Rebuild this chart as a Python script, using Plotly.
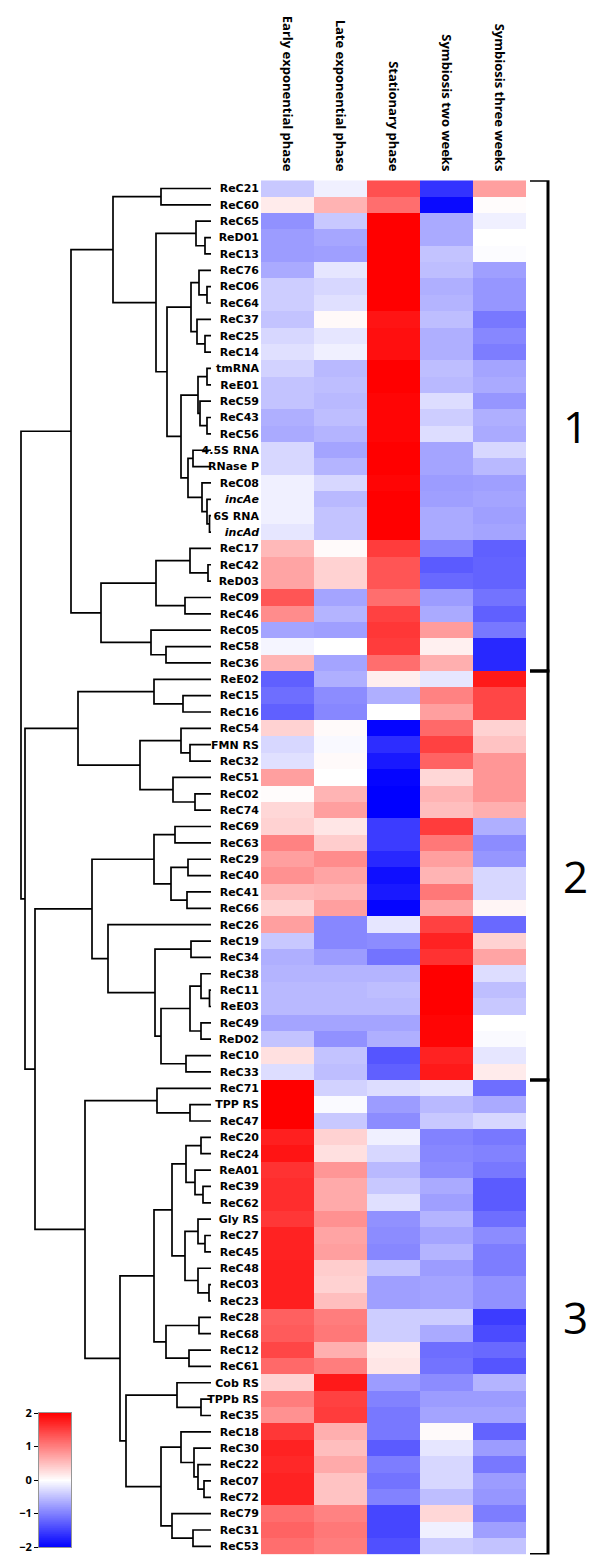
import numpy as np
import plotly.graph_objects as go

columns = ["Early exponential phase", "Late exponential phase", "Stationary phase",
           "Symbiosis two weeks", "Symbiosis three weeks"]

rows_c1 = ["ReC21", "ReC60", "ReC65", "ReD01", "ReC13", "ReC76", "ReC06", "ReC64", "ReC37", "ReC25",
           "ReC14", "tmRNA", "ReE01", "ReC59", "ReC43", "ReC56", "4.5S RNA", "RNase P", "ReC08", "incAe",
           "6S RNA", "incAd", "ReC17", "ReC42", "ReD03", "ReC09", "ReC46", "ReC05", "ReC58", "ReC36"]
rows_c2 = ["ReE02", "ReC15", "ReC16", "ReC54", "FMN RS", "ReC32", "ReC51", "ReC02", "ReC74", "ReC69",
           "ReC63", "ReC29", "ReC40", "ReC41", "ReC66", "ReC26", "ReC19", "ReC34", "ReC38", "ReC11",
           "ReE03", "ReC49", "ReD02", "ReC10", "ReC33"]
rows_c3 = ["ReC71", "TPP RS", "ReC47", "ReC20", "ReC24", "ReA01", "ReC39", "ReC62", "Gly RS", "ReC27",
           "ReC45", "ReC48", "ReC03", "ReC23", "ReC28", "ReC68", "ReC12", "ReC61", "Cob RS", "TPPb RS",
           "ReC35", "ReC18", "ReC30", "ReC22", "ReC07", "ReC72", "ReC79", "ReC31", "ReC53"]
italic_rows = ["incAe", "incAd"]

vals_c1 = [
    [-0.43, -0.12, 1.37, -1.60, 0.75],
    [0.16, 0.60, 1.14, -1.92, 0.02],
    [-0.86, -0.43, 2.00, -0.67, -0.12],
    [-0.78, -0.70, 2.00, -0.67, 0.00],
    [-0.78, -0.75, 2.00, -0.47, -0.02],
    [-0.67, -0.20, 2.00, -0.51, -0.75],
    [-0.39, -0.31, 2.00, -0.63, -0.82],
    [-0.39, -0.24, 2.00, -0.59, -0.82],
    [-0.47, 0.05, 1.84, -0.51, -1.06],
    [-0.31, -0.20, 1.88, -0.63, -0.94],
    [-0.24, -0.12, 1.88, -0.63, -1.02],
    [-0.35, -0.55, 2.00, -0.51, -0.71],
    [-0.47, -0.51, 2.00, -0.55, -0.67],
    [-0.47, -0.55, 1.96, -0.27, -0.82],
    [-0.63, -0.51, 1.96, -0.39, -0.63],
    [-0.67, -0.59, 1.96, -0.27, -0.67],
    [-0.31, -0.71, 2.00, -0.71, -0.31],
    [-0.31, -0.59, 2.00, -0.71, -0.55],
    [-0.12, -0.31, 1.96, -0.78, -0.75],
    [-0.12, -0.55, 2.00, -0.75, -0.71],
    [-0.12, -0.47, 2.00, -0.67, -0.75],
    [-0.20, -0.47, 2.00, -0.67, -0.71],
    [0.55, 0.04, 1.53, -0.98, -1.25],
    [0.71, 0.35, 1.33, -1.29, -1.22],
    [0.71, 0.35, 1.33, -1.18, -1.22],
    [1.33, -0.71, 1.14, -0.78, -1.10],
    [0.90, -0.59, 1.49, -0.67, -1.25],
    [-0.71, -0.75, 1.57, 0.78, -1.06],
    [-0.08, 0.00, 1.53, 0.12, -1.69],
    [0.59, -0.71, 1.14, 0.63, -1.69],
]
vals_c2 = [
    [-1.25, -0.63, 0.13, -0.20, 1.80],
    [-1.14, -0.90, -0.63, 0.98, 1.45],
    [-1.25, -0.94, 0.00, 0.75, 1.45],
    [0.35, 0.04, -1.96, 1.18, 0.35],
    [-0.31, -0.05, -1.65, 1.49, 0.47],
    [-0.24, 0.04, -1.80, 1.22, 0.82],
    [0.75, 0.00, -1.96, 0.31, 0.82],
    [0.02, 0.59, -2.00, 0.59, 0.82],
    [0.31, 0.75, -2.00, 0.51, 0.63],
    [0.35, 0.20, -1.53, 1.53, -0.63],
    [0.98, 0.39, -1.53, 1.06, -0.90],
    [0.75, 0.90, -1.69, 0.75, -0.82],
    [0.86, 0.71, -1.88, 0.59, -0.31],
    [0.55, 0.59, -1.80, 1.06, -0.31],
    [0.35, 0.75, -1.96, 0.71, 0.08],
    [0.75, -0.94, -0.20, 1.49, -1.18],
    [-0.43, -0.94, -0.90, 1.73, 0.35],
    [-0.63, -0.78, -1.10, 1.61, 0.71],
    [-0.59, -0.59, -0.59, 2.00, -0.27],
    [-0.55, -0.55, -0.51, 2.00, -0.51],
    [-0.55, -0.55, -0.55, 2.00, -0.43],
    [-0.71, -0.71, -0.71, 1.96, 0.00],
    [-0.47, -0.86, -0.63, 1.96, -0.04],
    [0.24, -0.47, -1.33, 1.73, -0.20],
    [-0.27, -0.51, -1.25, 1.80, 0.16],
]
vals_c3 = [
    [2.00, -0.35, -0.27, -0.20, -1.14],
    [2.00, -0.04, -0.78, -0.55, -0.67],
    [2.00, -0.43, -0.90, -0.43, -0.31],
    [1.76, 0.35, -0.12, -0.98, -1.06],
    [1.84, 0.24, -0.31, -0.94, -0.98],
    [1.61, 0.82, -0.55, -0.90, -1.06],
    [1.65, 0.67, -0.43, -0.67, -1.29],
    [1.65, 0.67, -0.24, -0.75, -1.29],
    [1.57, 0.86, -0.86, -0.59, -1.14],
    [1.73, 0.71, -0.90, -0.71, -0.90],
    [1.73, 0.75, -0.94, -0.59, -1.02],
    [1.76, 0.39, -0.47, -0.78, -1.02],
    [1.76, 0.35, -0.75, -0.71, -0.86],
    [1.76, 0.51, -0.75, -0.71, -0.86],
    [1.25, 1.02, -0.39, -0.39, -1.53],
    [1.29, 1.06, -0.39, -0.67, -1.41],
    [1.45, 0.63, 0.16, -1.14, -1.18],
    [1.18, 1.02, 0.20, -1.10, -1.33],
    [0.35, 1.80, -0.78, -0.90, -0.59],
    [1.02, 1.49, -0.98, -0.78, -0.78],
    [0.86, 1.53, -1.06, -0.71, -0.71],
    [1.57, 0.63, -1.06, 0.04, -1.22],
    [1.73, 0.51, -1.29, -0.20, -0.78],
    [1.69, 0.67, -1.02, -0.31, -1.06],
    [1.73, 0.47, -1.10, -0.31, -0.78],
    [1.73, 0.47, -0.98, -0.51, -0.82],
    [1.14, 0.98, -1.45, 0.31, -1.02],
    [1.22, 1.06, -1.45, -0.12, -0.75],
    [1.14, 1.02, -1.37, -0.40, -0.47],
]

# dendrogram: [merge distance, left, right]
tree_c1 = [1.40,
           [0.98, [0.50, "ReC21", "ReC60"],
            [0.55, [0.15, "ReC65", [0.06, "ReD01", "ReC13"]],
             [0.44, [0.20, [0.12, "ReC76", [0.04, "ReC06", "ReC64"]], [0.14, "ReC37", [0.06, "ReC25", "ReC14"]]],
              [0.30, [0.13, [0.04, "tmRNA", "ReE01"], [0.11, "ReC59", [0.04, "ReC43", "ReC56"]]],
               [0.23, [0.18, "4.5S RNA", "RNase P"],
                [0.09, "ReC08", [0.04, "incAe", [0.015, "6S RNA", "incAd"]]]]]]]],
           [1.10, [0.55, [0.21, "ReC17", [0.03, "ReC42", "ReD03"]], [0.26, "ReC09", "ReC46"]],
            [0.60, "ReC05", [0.45, "ReC58", "ReC36"]]]]
tree_c2a = [1.33, [0.57, "ReE02", [0.28, "ReC15", "ReC16"]],
            [0.71, [0.30, "ReC54", [0.21, "FMN RS", "ReC32"]], [0.38, "ReC51", [0.16, "ReC02", "ReC74"]]]]
tree_c2b = [1.19, [0.57, [0.36, "ReC69", "ReC63"], [0.40, [0.23, "ReC29", "ReC40"], [0.24, "ReC41", "ReC66"]]],
            [1.03, "ReC26",
             [0.56, [0.20, "ReC19", "ReC34"],
              [0.50, [0.21, [0.10, "ReC38", [0.015, "ReC11", "ReE03"]], [0.10, "ReC49", "ReD02"]],
               [0.25, "ReC10", "ReC33"]]]]]
tree_c3 = [1.26, [0.54, "ReC71", [0.21, "TPP RS", "ReC47"]],
           [0.91, [0.57, [0.39, [0.25, [0.10, "ReC20", "ReC24"], [0.16, "ReA01", [0.08, "ReC39", "ReC62"]]],
                          [0.26, [0.13, "Gly RS", [0.06, "ReC27", "ReC45"]], [0.13, "ReC48", [0.02, "ReC03", "ReC23"]]]],
                   [0.45, [0.12, "ReC28", "ReC68"], [0.22, "ReC12", "ReC61"]]],
            [0.85, [0.34, "Cob RS", [0.10, "TPPb RS", "ReC35"]],
             [0.50, [0.30, "ReC18", [0.17, "ReC30", [0.13, "ReC22", [0.07, "ReC07", "ReC72"]]]],
              [0.39, "ReC79", [0.18, "ReC31", "ReC53"]]]]]]
tree = [1.90, tree_c1, [1.86, tree_c2a, [1.76, tree_c2b, tree_c3]]]

cluster_names = ["1", "2", "3"]
colorbar_ticks = [-2, -1, 0, 1, 2]

# ---------------------------------------------------------------
rows = rows_c1 + rows_c2 + rows_c3
values = vals_c1 + vals_c2 + vals_c3
cluster_sizes = [len(rows_c1), len(rows_c2), len(rows_c3)]
n = len(rows)
idx = {r: i for i, r in enumerate(rows)}

W, H = 600, 1560
top_px, row_px = 172.3, 16.36
bot_px = top_px + row_px * n
ydom = [(H - bot_px) / H, (H - top_px) / H]

cscale = [[0, "rgb(0,0,255)"], [0.5, "rgb(255,255,255)"], [1, "rgb(255,0,0)"]]

xs, ys = [], []


def walk(node):
    if isinstance(node, str):
        return idx[node], 0.0
    h, l, r = node
    yl, hl = walk(l)
    yr, hr = walk(r)
    xs.extend([hl, h, h, hr, None])
    ys.extend([yl, yl, yr, yr, None])
    return (yl + yr) / 2, h


walk(tree)

ticktext = [f"<i>{r}</i>" if r in italic_rows else r for r in rows]

fig = go.Figure()
fig.add_trace(go.Heatmap(z=values, x=list(range(5)), y=list(range(n)), colorscale=cscale,
                         zmin=-2, zmax=2, showscale=False, xaxis="x", yaxis="y", hoverinfo="skip"))
fig.add_trace(go.Scatter(x=xs, y=ys, mode="lines", line=dict(color="black", width=1.7),
                         xaxis="x2", yaxis="y2", hoverinfo="skip", showlegend=False, cliponaxis=False))

grad = np.linspace(-2, 2, 201)
fig.add_trace(go.Heatmap(z=[[v] for v in grad], x=[0], y=grad, colorscale=cscale, zmin=-2, zmax=2,
                         showscale=False, xaxis="x3", yaxis="y3", hoverinfo="skip", zsmooth="best"))

label_font = dict(family="DejaVu Sans", size=11, color="black", weight=700)

fig.update_layout(
    width=W, height=H, margin=dict(l=0, r=0, t=0, b=0),
    paper_bgcolor="white", plot_bgcolor="white", showlegend=False,
    xaxis=dict(domain=[253 / W, 518 / W], range=[-0.5, 4.5], side="top", tickvals=list(range(5)),
               ticktext=columns, tickangle=90, ticks="", showgrid=False, zeroline=False,
               tickfont=dict(family="Open Sans", size=13, color="black", weight=700),
               ticklabelstandoff=6, automargin=False, anchor="y"),
    yaxis=dict(domain=ydom, range=[n - 0.5, -0.5], tickvals=list(range(n)), ticktext=ticktext,
               ticks="", showgrid=False, zeroline=False, tickfont=label_font, ticklabelstandoff=1,
               automargin=False, anchor="x"),
    xaxis2=dict(domain=[0, 210 / W], range=[2.03, -0.07], visible=False, anchor="y2"),
    yaxis2=dict(domain=ydom, range=[n - 0.5, -0.5], visible=False, anchor="x2"),
    xaxis3=dict(domain=[31 / W, 63 / W], range=[-0.5, 0.5], showticklabels=False, ticks="",
                showgrid=False, zeroline=False, showline=True, mirror=True,
                linecolor="rgb(150,150,150)", linewidth=1, anchor="y3"),
    yaxis3=dict(domain=[(H - 1539) / H, (H - 1405) / H], range=[-2, 2], tickvals=colorbar_ticks,
                ticks="outside", ticklen=4, tickcolor="black", showgrid=False, zeroline=False,
                showline=True, mirror=True, linecolor="rgb(150,150,150)", linewidth=1,
                tickfont=dict(family="Open Sans", size=11, color="black", weight=700),
                anchor="x3", side="left", automargin=False),
)

# cluster brackets and numbers
start = 0
for name, size in zip(cluster_names, cluster_sizes):
    y0, y1 = start - 0.5, start + size - 0.5
    xa, xb = 522 / W, 540 / W
    fig.add_shape(type="path", xref="paper", yref="y",
                  path=f"M {xa} {y0} L {xb} {y0} L {xb} {y1} L {xa} {y1}",
                  line=dict(color="black", width=3))
    fig.add_annotation(x=567 / W, y=(y0 + y1) / 2, xref="paper", yref="y", text=name,
                       showarrow=False, font=dict(family="Open Sans", size=44, color="black"),
                       xanchor="center", yanchor="middle")
    start += size

fig.write_html("out.html")
